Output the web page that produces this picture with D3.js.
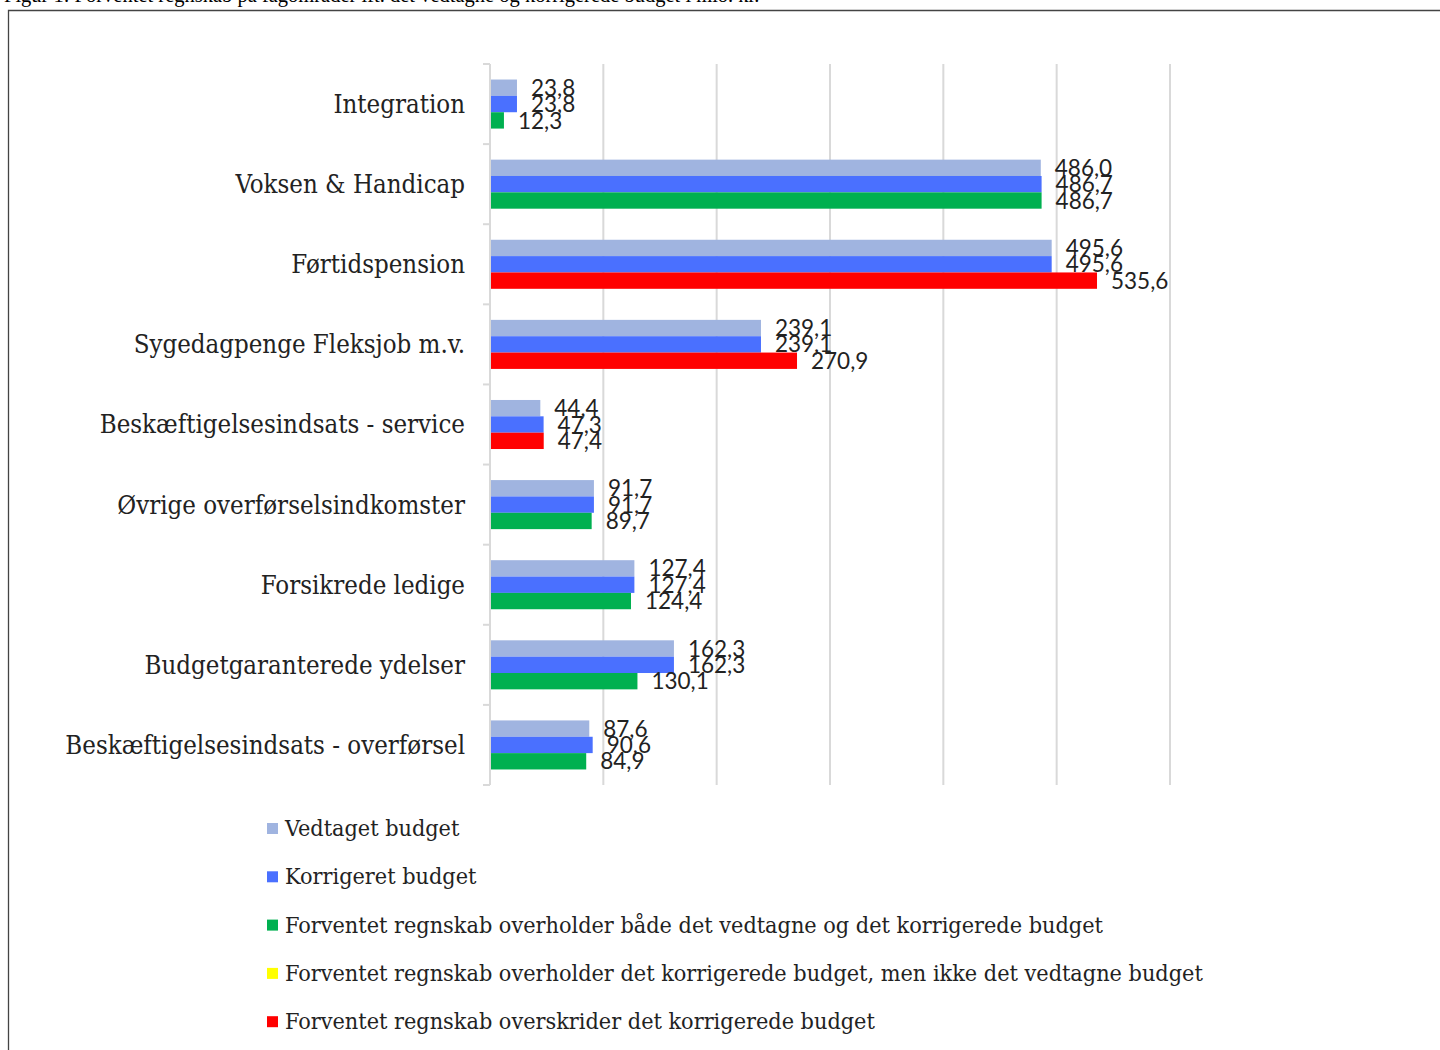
<!DOCTYPE html>
<html>
<head>
<meta charset="utf-8">
<script src="https://cdn.jsdelivr.net/npm/d3@7"></script>
<style>
  body { margin: 0; background: #fff; }
  svg { display: block; }
</style>
</head>
<body>
<div id="chart"></div>
<script>
// data (mio. kr.)
const categories = ["Integration", "Voksen & Handicap", "Førtidspension", "Sygedagpenge Fleksjob m.v.",
  "Beskæftigelsesindsats - service", "Øvrige overførselsindkomster", "Forsikrede ledige",
  "Budgetgaranterede ydelser", "Beskæftigelsesindsats - overførsel"];
const vedtaget = [23.8, 486.0, 495.6, 239.1, 44.4, 91.7, 127.4, 162.3, 87.6];
const korrigeret = [23.8, 486.7, 495.6, 239.1, 47.3, 91.7, 127.4, 162.3, 90.6];
const forventet = [12.3, 486.7, 535.6, 270.9, 47.4, 89.7, 124.4, 130.1, 84.9];
// colour class of the forventet bar as shown in the figure
const status = ["ok", "ok", "over", "over", "over", "ok", "ok", "ok", "ok"];
const series = ["vedtaget", "korrigeret", "forventet"];
const legendItems = [
  ["Vedtaget budget", "vedtaget"],
  ["Korrigeret budget", "korrigeret"],
  ["Forventet regnskab overholder både det vedtagne og det korrigerede budget", "ok"],
  ["Forventet regnskab overholder det korrigerede budget, men ikke det vedtagne budget", "warn"],
  ["Forventet regnskab overskrider det korrigerede budget", "over"]
];
const caption = "Figur 1: Forventet regnskab på fagområder ift. det vedtagne og korrigerede budget i mio. kr.";

const colors = { vedtaget: "#a0b4e0", korrigeret: "#4a70ff", ok: "#00b050", warn: "#ffff00", over: "#ff0000" };

const width = 1440, height = 1050;
const plot = { left: 490, right: 1170, top: 64, bottom: 785 };
const serifFont = "'DejaVu Serif Condensed', 'DejaVu Serif', serif";

const rows = categories.map((c, i) => ({
  cat: c, vedtaget: vedtaget[i], korrigeret: korrigeret[i], forventet: forventet[i], status: status[i]
}));

const svg = d3.select("#chart").append("svg")
  .attr("width", width)
  .attr("height", height);

// page caption (cut off at the top) and frame
svg.append("text")
  .attr("x", 4).attr("y", 2)
  .attr("font-family", "'Liberation Serif', serif")
  .attr("font-size", 20.5)
  .attr("fill", "#000")
  .text(caption);

svg.append("path")
  .attr("d", `M8.5,${height} V10.5 H${width}`)
  .attr("fill", "none")
  .attr("stroke", "#444")
  .attr("stroke-width", 1.3);

// scales
const x = d3.scaleLinear().domain([0, 600]).range([plot.left, plot.right]);
const y0 = d3.scaleBand().domain(categories).range([plot.top, plot.bottom]);
const y1 = d3.scaleBand().domain(series).range([0, y0.bandwidth()]).paddingOuter(0.95);

// gridlines
svg.append("g")
  .selectAll("line")
  .data(x.ticks(6).filter(d => d > 0))
  .join("line")
  .attr("x1", d => x(d)).attr("x2", d => x(d))
  .attr("y1", plot.top).attr("y2", plot.bottom)
  .attr("stroke", "#d9d9d9")
  .attr("stroke-width", 2);

// category axis line + ticks between categories
const axis = svg.append("g").attr("stroke", "#d9d9d9").attr("stroke-width", 2);
axis.append("line")
  .attr("x1", x(0)).attr("x2", x(0))
  .attr("y1", plot.top).attr("y2", plot.bottom);
axis.selectAll("line.tick")
  .data(categories.map(c => y0(c)).concat([plot.bottom]))
  .join("line")
  .attr("class", "tick")
  .attr("x1", x(0) - 7).attr("x2", x(0))
  .attr("y1", d => d).attr("y2", d => d);

// category labels
svg.append("g")
  .selectAll("text")
  .data(categories)
  .join("text")
  .attr("x", 465)
  .attr("y", d => y0(d) + y0.bandwidth() / 2)
  .attr("dy", "0.35em")
  .attr("text-anchor", "end")
  .attr("font-family", serifFont)
  .attr("font-size", 25.6)
  .attr("fill", "#222")
  .text(d => d);

// bars
const barColor = (d, key) => key === "forventet" ? colors[d.status] : colors[key];
const groups = svg.append("g")
  .selectAll("g")
  .data(rows)
  .join("g")
  .attr("transform", d => `translate(0,${y0(d.cat)})`);

groups.selectAll("rect")
  .data(d => series.map(key => ({ key, value: d[key], row: d })))
  .join("rect")
  .attr("x", x(0) + 1)
  .attr("y", d => y1(d.key))
  .attr("width", d => x(d.value) - x(0) - 1)
  .attr("height", y1.bandwidth())
  .attr("fill", d => barColor(d.row, d.key));

// value labels
const fmt = d3.formatLocale({ decimal: ",", thousands: ".", grouping: [3], currency: ["", " kr."] }).format(".1f");
groups.selectAll("text")
  .data(d => series.map(key => ({ key, value: d[key] })))
  .join("text")
  .attr("x", d => x(d.value) + 14)
  .attr("y", d => y1(d.key) + y1.bandwidth() / 2)
  .attr("dy", "0.36em")
  .attr("font-family", "Lato, sans-serif")
  .attr("font-size", 22.5)
  .attr("fill", "#222")
  .text(d => fmt(d.value));

// legend
const legend = svg.append("g")
  .selectAll("g")
  .data(legendItems)
  .join("g")
  .attr("transform", (d, i) => `translate(267,${828 + i * 48.3})`);

legend.append("rect")
  .attr("x", 0).attr("y", -5)
  .attr("width", 11).attr("height", 11)
  .attr("fill", d => colors[d[1]]);

legend.append("text")
  .attr("x", 18)
  .attr("dy", "0.35em")
  .attr("font-family", serifFont)
  .attr("font-size", 23.2)
  .attr("fill", "#222")
  .text(d => d[0]);
</script>
</body>
</html>
